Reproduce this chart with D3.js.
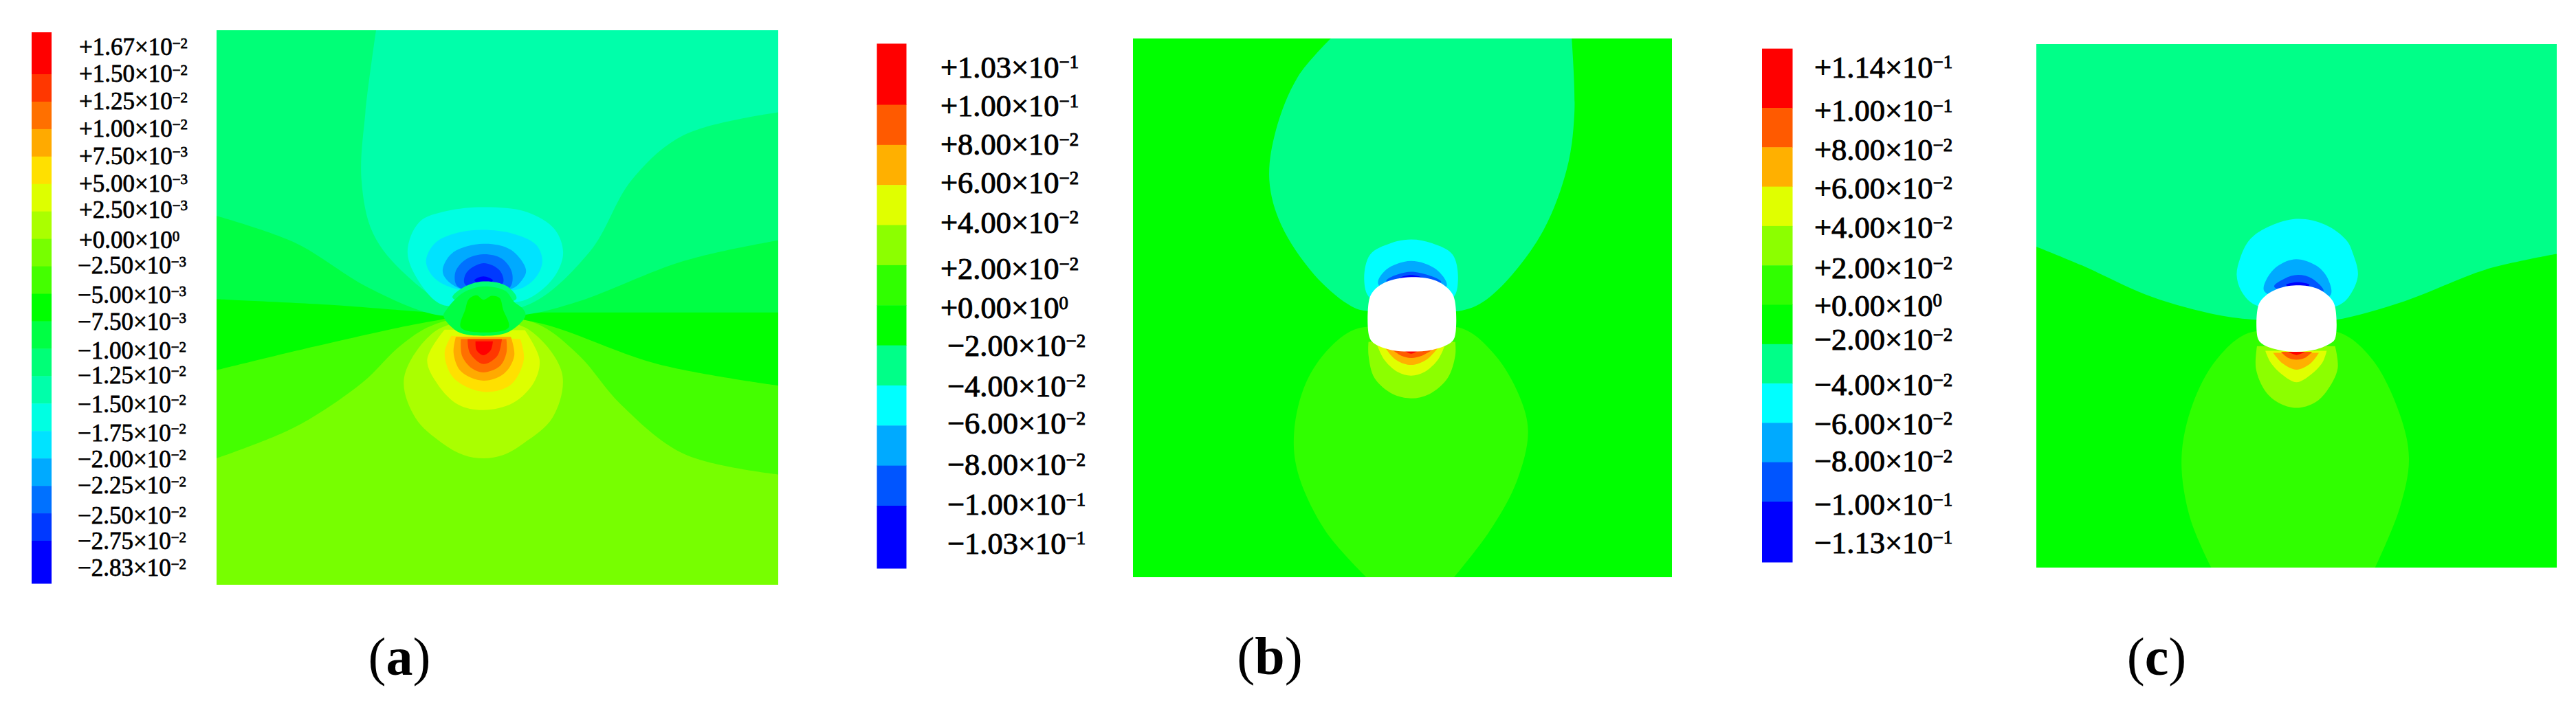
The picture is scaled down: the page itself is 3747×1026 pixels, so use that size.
<!DOCTYPE html>
<html><head><meta charset="utf-8">
<style>html,body{margin:0;padding:0;background:#fff}svg{display:block}
text{font-family:"Liberation Serif",serif;fill:#000}</style>
<script src="https://cdn.jsdelivr.net/npm/d3@7"></script></head><body>
<div id="chart"></div>
<script>
// ---------- colour bands (blue to red) ----------
const bands19 = ["#ff0000","#ff3700","#ff7000","#ffaa00","#ffe000","#ddff00","#aaff00","#77ff00","#44ff00","#00ff00","#00ff44","#00ff77","#00ffaa","#00ffe2","#00e3ff","#00aaff","#0071ff","#0039ff","#0000ff"];
const bands12 = ["#ff0000","#ff5a00","#ffb000","#e0ff00","#8cff00","#30ff00","#00ff00","#00ff88","#00ffff","#00aaff","#0055ff","#0000ff"];
// ---------- colour bar labels ----------
const labelsA = ["+1.67×10^−2","+1.50×10^−2","+1.25×10^−2","+1.00×10^−2","+7.50×10^−3","+5.00×10^−3","+2.50×10^−3","+0.00×10^0","−2.50×10^−3","−5.00×10^−3","−7.50×10^−3","−1.00×10^−2","−1.25×10^−2","−1.50×10^−2","−1.75×10^−2","−2.00×10^−2","−2.25×10^−2","−2.50×10^−2","−2.75×10^−2","−2.83×10^−2"];
const labelsB = ["+1.03×10^−1","+1.00×10^−1","+8.00×10^−2","+6.00×10^−2","+4.00×10^−2","+2.00×10^−2","+0.00×10^0","−2.00×10^−2","−4.00×10^−2","−6.00×10^−2","−8.00×10^−2","−1.00×10^−1","−1.03×10^−1"];
const labelsC = ["+1.14×10^−1","+1.00×10^−1","+8.00×10^−2","+6.00×10^−2","+4.00×10^−2","+2.00×10^−2","+0.00×10^0","−2.00×10^−2","−4.00×10^−2","−6.00×10^−2","−8.00×10^−2","−1.00×10^−1","−1.13×10^−1"];
const captions = ["a","b","c"];

// ---------- contour outlines, % of plot width / height ----------
// panel (a)
const aEdge44 = [[0,77.2],[13.9,71.6],[26,63.5],[32.6,57],[38.2,53.3],[47,51.5],[57,52.9],[64.5,58.6],[72,67.5],[83.2,76.4],[100,80.1]];
const aEdge00 = [[0,61.3],[17.6,57],[38.2,52.5],[47,51.5],[57.9,52.9],[78.5,60.2],[100,64.1]];
const aEdge44g = [[0,48.5],[20,49.5],[39,50.9],[47,51],[55,50.9],[78,50.9],[100,50.9]];
const aEdge77 = [[0,33.5],[13.9,38.3],[27,46.4],[39,51.3],[47,51.3],[55,51.3],[64.5,48.9],[83.2,41.6],[100,37.9]];
const aLobeAA = [[28.4,0],[26.5,14.8],[25.8,27],[27.9,36.7],[33.6,44],[42,49.7],[55,49.7],[66.4,40],[73.9,27],[83.2,18.9],[100,14.8]];
const aCyan = [[34,40],[36.1,34.6],[41,32.6],[47.9,31.9],[55.3,32.8],[60.2,35.9],[61.7,40],[60.6,43.7],[57.7,47],[54.1,48.9],[47.5,49],[40.2,49.5],[36.1,45.4]];
const aSky = [[41.8,46.4],[38.6,44.5],[37.3,41.6],[39,38.3],[43,36.5],[47.5,36],[52.8,36.7],[56.9,38.7],[58,41.6],[56.9,44.5],[54.1,46.6],[47.5,47]];
const aAzure = [[42.9,46.4],[40.6,44.5],[40.3,42.9],[42.2,40],[47.5,38.5],[52.4,39.6],[55.1,43.3],[54.1,45.4],[52.6,46.6],[47.5,47]];
const aBlue = [[42.9,46.2],[42.5,43.7],[44.3,41.4],[47.5,40.4],[50.8,41.2],[52.6,43.7],[52.2,46.4],[47.5,47]];
const aDeep = [[44.2,45.8],[44.5,43.7],[47.5,42],[50.4,43.3],[51,45.6],[47.5,46.5]];
const aNavy = [[45.9,45.1],[47.5,44.4],[49.2,45.1],[47.5,45.9]];
const aArch = [[42,48.2],[43.9,46.4],[47.5,45.3],[51.6,46.1],[53.4,48.4],[47.5,49.5]];
const aBump = [[41,50.3],[42.4,48.6],[44.1,47.2],[47.5,46.2],[51.4,47],[53,49],[54.6,50.3],[55,51.5],[52,54.4],[47.5,55.1],[43,54.4],[40.4,51.5]];
const aCore = [[44.3,50.3],[44.9,48.5],[46.3,47.8],[47.5,48.6],[49,47.9],[50.4,48.3],[51,50.3],[52,53.6],[47.5,54.5],[43.5,53.6]];
const aLime = [[33.4,62.6],[39.2,54.1],[47,52.5],[55.1,53.7],[61.5,61.8],[59.8,69.9],[54.2,74.8],[51,76.6],[47.6,77.2],[44,76.6],[40.1,74.4],[35.4,69.9]];
const aChart = [[40.6,54],[37.5,59.4],[39.4,63.9],[43,67.5],[47.5,68.5],[52.8,67.2],[56.5,63.5],[57.5,59.4],[54.9,54.1]];
const aGold = [[41.8,55.1],[40.6,58.2],[42.2,62.7],[47.5,65.2],[52.4,63.9],[54.7,59.4],[54.1,55.7]];
const aAmber = [[42.6,55.3],[42.2,58.2],[43.5,61.5],[47.5,63.2],[51.2,61.9],[53,58.7],[52.4,55.3]];
const aOrange = [[43.5,55.7],[43.7,58.7],[45.5,61],[47.5,61.7],[50.4,60.6],[51.6,58.2],[51.6,55.7]];
const aVermil = [[44.7,55.7],[45.1,58.2],[47.5,60.2],[50,58.7],[50.8,55.7]];
const aRed = [[46.1,56.1],[46.3,57.7],[47.5,58.6],[48.8,57.7],[49.2,56.1]];
// panel (b)
const bLobeUp = [[36.7,0],[30.6,7.1],[26.5,17.1],[25.3,26.3],[27.5,34.6],[33.6,43.8],[39.7,49.2],[42.8,50.5],[51.6,50],[61,50.5],[66.2,48],[75.3,37.1],[80.4,24.6],[81.9,13.8],[81.4,0]];
const bLobeDn = [[43.3,100],[35.7,91.4],[30.6,80.6],[29.9,73],[32.1,63.9],[36.7,57.2],[41.8,53.8],[51.6,54],[61,53.8],[67.2,58.8],[71.7,66.4],[73.3,73],[71.2,82.2],[66.2,91.4],[59.6,100]];
const bCyan = [[42.9,44.8],[44,40.1],[47.8,38],[51.6,37.3],[55.5,38],[59.3,40.1],[60.3,44.8],[59.3,48.2],[51.6,50],[44,48.2]];
const bAzure = [[45.5,45.6],[47,42.9],[51.6,41.3],[56.3,42.9],[58.2,46],[51.6,48]];
const bBlue = [[47,45],[51.6,43.3],[57.2,45.2],[51.6,47]];
const bNavy = [[49.5,44.5],[51.6,43.9],[53.7,44.5],[51.6,45.5]];
const bLime = [[43.7,56.3],[43.7,58.8],[44.8,63],[48.2,66],[51.6,66.8],[55,66],[58.4,63],[59.8,58.8],[59.8,56.3]];
const bYellow = [[45.3,56.9],[46.6,59.6],[49.1,61.9],[51.6,62.6],[54.1,61.9],[56.6,59.6],[57.9,56.9]];
const bAmber = [[46.8,57.4],[48.7,59.6],[51.6,60.6],[54.5,59.6],[56.6,57.4]];
const bOrange = [[48,57.7],[49.8,58.9],[51.6,59.3],[53.6,58.9],[55.7,57.7]];
const bRed = [[50.3,57.9],[51.6,58.5],[53,57.9]];
const bTunnel = [[43.8,55.2],[43.8,48.6],[44.6,46.9],[47,45.2],[51.6,44.3],[56.3,45],[58.9,46.9],[59.7,48.6],[59.7,55.4],[58.9,56.5],[55.5,57.8],[51.6,58.1],[47.8,57.8],[44.6,56.5]];
// panel (c)
const cEdge00 = [[0,38.7],[8.8,42.3],[22.2,48.3],[34.6,51.7],[42.4,52.7],[50,53],[57.4,52.7],[70.8,49.1],[86.3,43.1],[100,40.1]];
const cLobeDn = [[33.6,100],[29.5,90.4],[27.9,79.2],[30,68.9],[34.6,60.3],[40.8,55.2],[50,55],[58.4,55.2],[64.6,60.3],[69.8,70.6],[71.6,79.2],[69.8,88.7],[65.1,100]];
const cCyan = [[38.5,44.1],[39.2,40.8],[40.9,37.5],[43.8,35.3],[49.9,33.4],[55.5,34.5],[59.6,37.5],[60.9,40.2],[61.8,44.1],[60.5,47.6],[58.3,49.8],[50,51],[42,49.8],[39.4,47.2]];
const cAzure = [[43.8,47.2],[44.2,45],[46.4,42.4],[49.9,41.1],[53.9,42.4],[56.1,45],[56.5,48],[50,49]];
const cBlue = [[45.7,46.3],[47.7,44.8],[50.3,44.1],[53,44.8],[55.2,47.2],[50,48]];
const cNavy = [[48,46],[50.3,45.5],[52.5,46],[50,47]];
const cLime = [[42.4,57.7],[42.2,62],[44,66.3],[46.5,68.5],[50,69.5],[53.5,68.5],[55.8,66.3],[57.9,62],[57.4,57.7]];
const cYellow = [[44,58.6],[45,60.8],[47.3,63.2],[50,64.6],[52.7,63.2],[55,60.8],[55.8,58.6]];
const cAmber = [[45.5,59],[47.3,61],[50,62.2],[52.7,61],[54.3,59]];
const cOrange = [[47,58.8],[48.3,59.9],[50,60.3],[51.7,59.9],[53,58.8]];
const cRed = [[48.4,58.8],[50,59.4],[51.6,58.8]];
const cTunnel = [[42.6,56.3],[42.6,50.2],[43.6,48.5],[46,46.9],[49.9,46.1],[53.9,46.7],[56.5,48.5],[57.4,50.2],[57.4,56.3],[56.5,57.2],[53.9,58.3],[49.9,58.8],[46,58.3],[43.6,57.4]];

// ---------- layer tables: painted in order ----------
const c19 = i => bands19[i], c12 = i => bands12[i];
const layersA = [
 {pts:aEdge44, fill:c19(8), corners:[[100,0],[0,0]]},
 {pts:aEdge00, fill:c19(9), corners:[[100,0],[0,0]]},
 {pts:aEdge44g, fill:c19(10), corners:[[100,0],[0,0]]},
 {pts:aEdge77, fill:c19(11), corners:[[100,0],[0,0]]},
 {pts:aLobeAA, fill:c19(12), corners:[[100,0]]},
 {pts:aCyan, fill:c19(13), closed:true},{pts:aSky, fill:c19(14), closed:true},{pts:aAzure, fill:c19(15), closed:true},
 {pts:aBlue, fill:c19(16), closed:true},{pts:aDeep, fill:c19(17), closed:true},{pts:aNavy, fill:c19(18), closed:true},
 {pts:aLime, fill:c19(6), closed:true},{pts:aChart, fill:c19(5)},{pts:aGold, fill:c19(4)},{pts:aAmber, fill:c19(3)},
 {pts:aOrange, fill:c19(2)},{pts:aVermil, fill:c19(1)},{pts:aRed, fill:c19(0)},
 {pts:aArch, fill:c19(11), closed:true},{pts:aBump, fill:c19(10), closed:true},{pts:aCore, fill:c19(9), closed:true}
];
const layersB = [
 {pts:bLobeUp, fill:c12(7)},{pts:bLobeDn, fill:c12(5)},
 {pts:bCyan, fill:c12(8), closed:true},{pts:bAzure, fill:c12(9), closed:true},{pts:bBlue, fill:c12(10), closed:true},{pts:bNavy, fill:c12(11), closed:true},
 {pts:bLime, fill:c12(4)},{pts:bYellow, fill:c12(3)},{pts:bAmber, fill:c12(2)},{pts:bOrange, fill:c12(1)},{pts:bRed, fill:c12(0)},
 {pts:bTunnel, fill:"#fff", closed:true}
];
const layersC = [
 {pts:cEdge00, fill:c12(6), corners:[[100,100],[0,100]]},{pts:cLobeDn, fill:c12(5)},
 {pts:cCyan, fill:c12(8), closed:true},{pts:cAzure, fill:c12(9), closed:true},{pts:cBlue, fill:c12(10), closed:true},{pts:cNavy, fill:c12(11), closed:true},
 {pts:cLime, fill:c12(4)},{pts:cYellow, fill:c12(3)},{pts:cAmber, fill:c12(2)},{pts:cOrange, fill:c12(1)},{pts:cRed, fill:c12(0)},
 {pts:cTunnel, fill:"#fff", closed:true}
];

// ---------- layout (pixels) ----------
const W = 3747, H = 1026;
const panels = [
 {id:"a", plot:[315,1132,44,851], bg:c19(7), layers:layersA, bands:bands19, labels:labelsA,
  bar:[46,75,47,849], firstLast:[108,787], labelX:115, negDx:-2, labelY:[68.7,826.6], fs:35,
  nudge:[0,-1,-1,-1,-1,-1,-3,2,-1,2,1,3,-1,1,3,1,0,4,1,0], capX:581, capY:982},
 {id:"b", plot:[1648,2432,56,840], bg:c12(6), layers:layersB, bands:bands12, labels:labelsB,
  bar:[1275.5,1318.5,63.5,827], firstLast:[152.5,736], labelX:1368, negDx:10, labelY:[98,791], fs:44.5,
  nudge:[0,-1,-3,-5,-5,5,4,1,2,-1,1,1,0], capX:1847, capY:981},
 {id:"c", plot:[2962,3719,64,826], bg:c12(7), layers:layersC, bands:bands12, labels:labelsC,
  bar:[2563,2607.5,70.7,818], firstLast:[157,730], labelX:2639, negDx:0, labelY:[98,790], fs:44.5,
  nudge:[0,6,5,3,3,4,1,-7,1,0,-3,2,0], capX:3137, capY:982}
];

const svg = d3.select("#chart").append("svg").attr("width",W).attr("height",H).attr("viewBox",`0 0 ${W} ${H}`);
svg.append("rect").attr("width",W).attr("height",H).attr("fill","#fff");

panels.forEach((p,pi)=>{
  const g = svg.append("g").attr("class","panel-"+p.id);
  const [x0,x1,y0,y1] = p.plot;
  const x = d3.scaleLinear().domain([0,100]).range([x0,x1]);
  const y = d3.scaleLinear().domain([0,100]).range([y0,y1]);
  const clipId = "clip-"+p.id;
  g.append("clipPath").attr("id",clipId).append("rect").attr("x",x0).attr("y",y0).attr("width",x1-x0).attr("height",y1-y0);
  const plot = g.append("g").attr("clip-path",`url(#${clipId})`);
  plot.append("rect").attr("x",x0).attr("y",y0).attr("width",x1-x0).attr("height",y1-y0).attr("fill",p.bg);
  const openLine = d3.line().x(d=>x(d[0])).y(d=>y(d[1])).curve(d3.curveCatmullRom.alpha(0.5));
  const closedLine = d3.line().x(d=>x(d[0])).y(d=>y(d[1])).curve(d3.curveCatmullRomClosed.alpha(0.5));
  plot.selectAll("path").data(p.layers).join("path")
    .attr("fill",d=>d.fill)
    .attr("d",d=>{
      if(d.closed) return closedLine(d.pts);
      const corners=(d.corners||[]).map(c=>`L${x(c[0])},${y(c[1])}`).join("");
      return openLine(d.pts)+corners+"Z";
    });

  // colour bar
  const [bx0,bx1,by0,by1]=p.bar, n=p.bands.length;
  const yb = d3.scaleLinear().domain([1,n-1]).range(p.firstLast);
  const edge = i => i<=0?by0:(i>=n?by1:yb(i));
  g.selectAll("rect.seg").data(p.bands).join("rect").attr("class","seg")
    .attr("x",bx0).attr("width",bx1-bx0)
    .attr("y",(d,i)=>edge(i)).attr("height",(d,i)=>edge(i+1)-edge(i)+0.5).attr("fill",d=>d);

  // labels
  const yl = d3.scalePoint().domain(d3.range(p.labels.length)).range(p.labelY);
  const t = g.selectAll("text.lab").data(p.labels).join("text").attr("class","lab")
    .attr("font-size",p.fs).attr("stroke","#000").attr("stroke-width",p.fs*0.022)
    .attr("x",d=>p.labelX+(d[0]==="−"?p.negDx:0))
    .attr("y",(d,i)=>yl(i)+p.nudge[i]+p.fs*0.33);
  t.each(function(d){
    const [m,e]=d.split("^"), s=d3.select(this);
    s.append("tspan").text(m);
    s.append("tspan").attr("font-size",p.fs*0.6).attr("dy",-p.fs*0.3).text(e);
  });

  // caption
  const cap = g.append("text").attr("x",p.capX).attr("y",p.capY).attr("text-anchor","middle").attr("font-size",78);
  cap.append("tspan").text("(");
  cap.append("tspan").attr("font-weight","bold").text(captions[pi]);
  cap.append("tspan").text(")");
});
</script></body></html>
